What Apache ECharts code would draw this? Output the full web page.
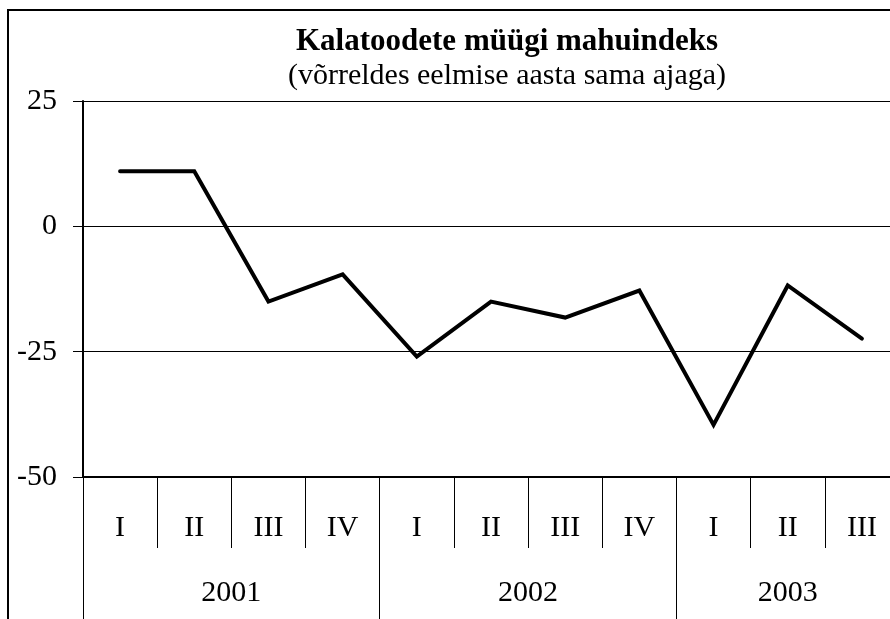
<!DOCTYPE html>
<html lang="et">
  <head>
    <meta charset="utf-8">
    <title>Kalatoodete müügi mahuindeks</title>
    <script src="https://cdn.jsdelivr.net/npm/echarts@6/dist/echarts.min.js"></script>
    <style>
      html, body { margin: 0; padding: 0; background: #fff; }
      #chart { width: 890px; height: 619px; }
    </style>
  </head>
  <body>
    <div id="chart"></div>
    <script>
      // andmed
      var quarters = ['I', 'II', 'III', 'IV', 'I', 'II', 'III', 'IV', 'I', 'II', 'III'];
      var values = [11, 11, -15, -9.6, -26, -15, -18.2, -12.8, -39.6, -11.8, -22.4];
      var years = ['2001', '2002', '2003'];
      var quartersPerYear = [4, 4, 3];
      var yTicks = [-50, -25, 0, 25];

      // aastate piirid ja keskkohad
      var yearBounds = [];
      var yearMids = [];
      var yearByMid = {};
      var pos = 0;
      for (var i = 0; i < years.length; i++) {
          yearBounds.push(pos);
          var mid = pos + quartersPerYear[i] / 2;
          yearMids.push(mid);
          yearByMid[mid] = years[i];
          pos += quartersPerYear[i];
      }

      var font = "'Liberation Serif', 'Times New Roman', serif";
      var myChart = echarts.init(document.getElementById('chart'));

      myChart.setOption({
          backgroundColor: '#fff',
          animation: false,
          title: {
              text: 'Kalatoodete müügi mahuindeks',
              subtext: '(võrreldes eelmise aasta sama ajaga)',
              left: 507,
              textAlign: 'center',
              top: 26,
              itemGap: 4,
              padding: 0,
              textStyle: { fontFamily: font, fontSize: 31, fontWeight: 'bold', color: '#000' },
              subtextStyle: { fontFamily: font, fontSize: 30, color: '#000' }
          },
          graphic: [{
              type: 'rect',
              shape: { x: 8, y: 10, width: 1000, height: 800 },
              style: { fill: 'none', stroke: '#000', lineWidth: 2 },
              silent: true
          }],
          grid: { left: 83, top: 101, width: 816, height: 376, outerBoundsMode: 'none' },
          xAxis: [{
              type: 'category',
              data: quarters,
              position: 'bottom',
              boundaryGap: true,
              axisLine: { show: true, onZero: false, lineStyle: { color: '#000', width: 2 } },
              axisTick: { show: true, interval: 0, length: 71, lineStyle: { color: '#000', width: 1 } },
              axisLabel: { interval: 0, margin: 36, fontFamily: font, fontSize: 30, color: '#000' },
              splitLine: { show: false }
          }, {
              type: 'value',
              position: 'bottom',
              offset: 0,
              min: 0,
              max: quarters.length,
              axisLine: { show: false, onZero: false },
              axisTick: { show: true, customValues: yearBounds, length: 160, lineStyle: { color: '#000', width: 1 } },
              axisLabel: {
                  customValues: yearMids,
                  margin: 101,
                  fontFamily: font, fontSize: 30, color: '#000',
                  formatter: function (v) { return yearByMid[v] || ''; }
              },
              splitLine: { show: false }
          }],
          yAxis: {
              type: 'value',
              min: yTicks[0],
              max: yTicks[yTicks.length - 1],
              interval: 25,
              axisLine: { show: true, onZero: false, lineStyle: { color: '#000', width: 2 } },
              axisTick: { show: true, length: 10, lineStyle: { color: '#000', width: 1 } },
              axisLabel: { margin: 26, fontFamily: font, fontSize: 30, color: '#000' },
              splitLine: { show: true, lineStyle: { color: '#000', width: 1 } }
          },
          series: [{
              type: 'line',
              data: values,
              xAxisIndex: 0,
              showSymbol: false,
              symbol: 'none',
              lineStyle: { color: '#000', width: 4, cap: 'round', join: 'miter' }
          }]
      });
    </script>
  </body>
</html>
